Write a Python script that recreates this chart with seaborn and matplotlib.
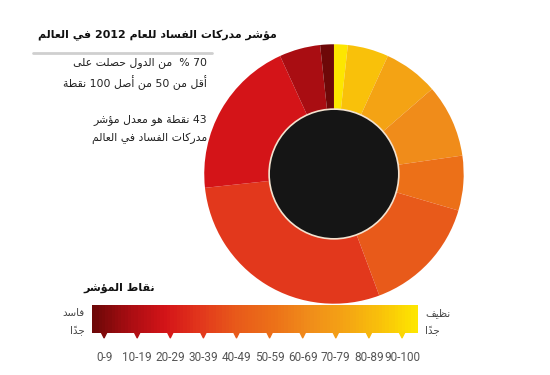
import numpy as np
import seaborn as sns
import matplotlib.pyplot as plt
from matplotlib.lines import Line2D

# CPI 2012 score bands and number of countries in each band (read from the ring)
bands = ["0-9", "10-19", "20-29", "30-39", "40-49", "50-59", "60-69", "70-79", "80-89", "90-100"]
countries = [3, 9, 35, 51, 26, 12, 16, 12, 9, 3]
band_colors = ["#6e0808", "#a90d12", "#d41418", "#e2381c", "#e85a1a",
               "#ec7018", "#f08c1a", "#f4a314", "#f9c10a", "#fde600"]

title = "مؤشر مدركات الفساد للعام 2012 في العالم"
note1 = ["70 %  من الدول حصلت على", "أقل من 50 من أصل 100 نقطة"]
note2 = ["43 نقطة هو معدل مؤشر", "مدركات الفساد في العالم"]
scale_title = "نقاط المؤشر"
left_label = ["فاسد", "جداً"]
right_label = ["نظيف", "جداً"]

# --- tiny arabic shaper: matplotlib does no contextual shaping / RTL ---
BASES = {
    '\u0621': (0xFE80, 'U'), '\u0622': (0xFE81, 'R'), '\u0623': (0xFE83, 'R'), '\u0624': (0xFE85, 'R'),
    '\u0625': (0xFE87, 'R'), '\u0626': (0xFE89, 'D'), '\u0627': (0xFE8D, 'R'), '\u0628': (0xFE8F, 'D'),
    '\u0629': (0xFE93, 'R'), '\u062A': (0xFE95, 'D'), '\u062B': (0xFE99, 'D'), '\u062C': (0xFE9D, 'D'),
    '\u062D': (0xFEA1, 'D'), '\u062E': (0xFEA5, 'D'), '\u062F': (0xFEA9, 'R'), '\u0630': (0xFEAB, 'R'),
    '\u0631': (0xFEAD, 'R'), '\u0632': (0xFEAF, 'R'), '\u0633': (0xFEB1, 'D'), '\u0634': (0xFEB5, 'D'),
    '\u0635': (0xFEB9, 'D'), '\u0636': (0xFEBD, 'D'), '\u0637': (0xFEC1, 'D'), '\u0638': (0xFEC5, 'D'),
    '\u0639': (0xFEC9, 'D'), '\u063A': (0xFECD, 'D'), '\u0641': (0xFED1, 'D'), '\u0642': (0xFED5, 'D'),
    '\u0643': (0xFED9, 'D'), '\u0644': (0xFEDD, 'D'), '\u0645': (0xFEE1, 'D'), '\u0646': (0xFEE5, 'D'),
    '\u0647': (0xFEE9, 'D'), '\u0648': (0xFEED, 'R'), '\u0649': (0xFEEF, 'R'), '\u064A': (0xFEF1, 'D'),
}
LAM_ALEF = {'\u0622': 0xFEF5, '\u0623': 0xFEF7, '\u0625': 0xFEF9, '\u0627': 0xFEFB}


def info(c):
    if c.startswith('LA'):
        return LAM_ALEF[c[2]], 'R'
    return BASES.get(c, (None, 'U'))


def shape_word(word):
    clusters = []
    for ch in word:
        if '\u064B' <= ch <= '\u0652' and clusters:
            clusters[-1][1] += ch
        else:
            clusters.append([ch, ''])
    merged, k = [], 0
    while k < len(clusters):
        c, m = clusters[k]
        if c == '\u0644' and k + 1 < len(clusters) and clusters[k + 1][0] in LAM_ALEF:
            merged.append(['LA' + clusters[k + 1][0], m + clusters[k + 1][1]])
            k += 2
        else:
            merged.append([c, m])
            k += 1
    joins = [info(c)[1] for c, _ in merged]
    out = []
    for k, (c, m) in enumerate(merged):
        base, t = info(c)
        if base is None:
            out.append(c + m)
            continue
        prev = k > 0 and joins[k - 1] == 'D'
        nxt = t == 'D' and k + 1 < len(merged) and joins[k + 1] in ('D', 'R')
        off = 0
        if t != 'U':
            off = 3 if (prev and nxt) else 1 if prev else 2 if nxt else 0
        out.append(chr(base + off) + m)
    return ''.join(reversed(out))


def rtl(line):
    words = line.split(' ')
    vis = [shape_word(w) if any(ch in BASES for ch in w) else w for w in words]
    return ' '.join(reversed(vis))


sns.set_theme(style="white")
plt.rcParams['font.family'] = ['DejaVu Sans']

fig = plt.figure(figsize=(5.5, 3.75), dpi=100)

# donut
ax = fig.add_axes([0.369, 0.1867, 0.4764, 0.6987])
ax.pie(countries[::-1], colors=band_colors[::-1], startangle=90, counterclock=False,
       radius=1, wedgeprops=dict(width=0.5, linewidth=0))
ax.add_patch(plt.Circle((0, 0), 0.5, facecolor="#151515", edgecolor="#f3e2cf", lw=1.2))
ax.set_xlim(-1.01, 1.01)
ax.set_ylim(-1.01, 1.01)
ax.set_aspect("equal")
ax.axis("off")

# gradient scale
cmap = sns.blend_palette(band_colors, as_cmap=True)
bax = fig.add_axes([0.1673, 0.112, 0.5927, 0.0747])
sns.heatmap(np.arange(100).reshape(1, -1), cmap=cmap, cbar=False, ax=bax,
            xticklabels=False, yticklabels=False)
tick_pos = np.linspace(3.7, 95.1, len(bands))
bax.scatter(tick_pos, [1.08] * len(bands), marker="v", s=14,
            c=[cmap(p / 100) for p in tick_pos], clip_on=False, zorder=3)
bax.set_xticks(tick_pos)
bax.set_xticklabels(bands, fontsize=8.5, color="#555555", family=['Roboto', 'DejaVu Sans'])
bax.tick_params(axis="x", length=0, pad=13)
bax.tick_params(axis="y", length=0)

# texts
fig.text(0.5036, 0.9067, rtl(title), ha="right", va="center", fontsize=7.9,
         fontweight="bold", color="#111111")
fig.add_artist(Line2D([0.06, 0.385], [0.8587, 0.8587], color="#cfcfcf", lw=2))
for y, s in zip([0.832, 0.781], note1):
    fig.text(0.376, y, rtl(s), ha="right", va="center", fontsize=7.8, color="#222222")
for y, s in zip([0.68, 0.632], note2):
    fig.text(0.376, y, rtl(s), ha="right", va="center", fontsize=7.8, color="#222222")
fig.text(0.2818, 0.232, rtl(scale_title), ha="right", va="center", fontsize=8,
         fontweight="bold", color="#111111")
for y, s in zip([0.165, 0.117], left_label):
    fig.text(0.1545, y, rtl(s), ha="right", va="center", fontsize=7.5, color="#444444")
for y, s in zip([0.165, 0.117], right_label):
    fig.text(0.7727, y, rtl(s), ha="left", va="center", fontsize=7.5, color="#444444")

fig.savefig("out.png", dpi=100)
